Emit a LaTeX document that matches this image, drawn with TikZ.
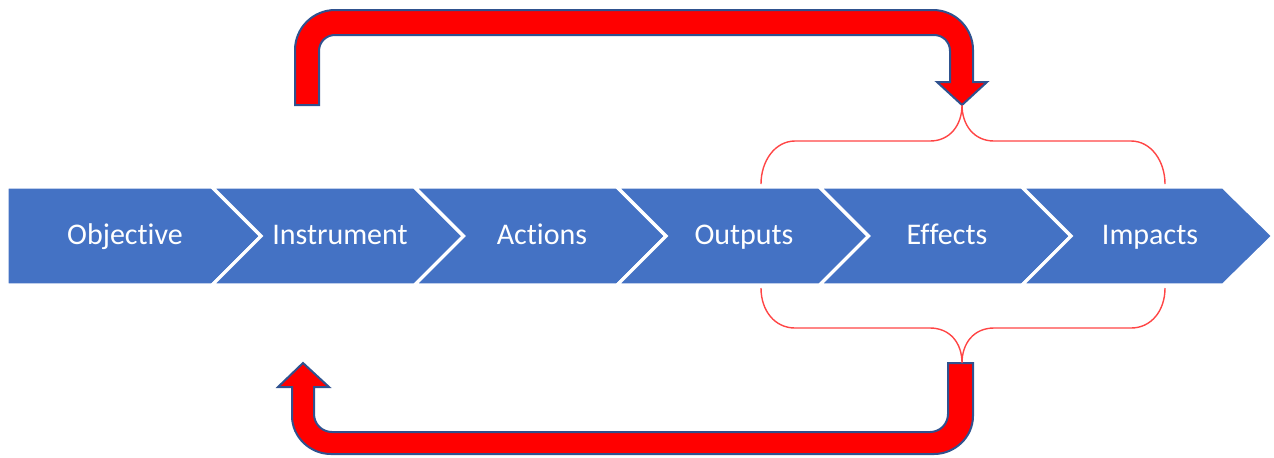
\documentclass[tikz,border=0pt]{standalone}
\usepackage{fontspec}
\setmainfont{Carlito}[Ligatures={NoCommon,NoRequired,NoContextual}]
\definecolor{chevblue}{HTML}{4472C4}
\definecolor{arrowedge}{HTML}{2F528F}
\definecolor{bracered}{HTML}{FF4545}
\begin{document}
\begin{tikzpicture}[x=0.5pt,y=-0.5pt,
  chev/.style={fill=chevblue,draw=white,line width=1.6pt,line join=miter},
  label/.style={text=white,font=\fontsize{15}{18}\selectfont,anchor=base,inner sep=0pt},
  bigarrow/.style={fill=red,draw=arrowedge,line width=1pt,line join=miter},
  brace/.style={draw=bracered,line width=0.7pt}]
\useasboundingbox (0,0) rectangle (1274,457);
% chevrons
\draw[chev] (7,187) -- (212,187) -- (261,236) -- (212,285) -- (7,285) -- cycle;
\draw[chev] (212,187) -- (414.5,187) -- (463.5,236) -- (414.5,285) -- (212,285) -- (261,236) -- cycle;
\draw[chev] (414.5,187) -- (617,187) -- (666,236) -- (617,285) -- (414.5,285) -- (463.5,236) -- cycle;
\draw[chev] (617,187) -- (819.5,187) -- (868.5,236) -- (819.5,285) -- (617,285) -- (666,236) -- cycle;
\draw[chev] (819.5,187) -- (1022,187) -- (1071,236) -- (1022,285) -- (819.5,285) -- (868.5,236) -- cycle;
\draw[chev] (1022,187) -- (1223,187) -- (1273,236) -- (1223,285) -- (1022,285) -- (1071,236) -- cycle;
\node[label] (objective) at (125,244) {Objective};
\node[label] (instrument) at (340,244) {Instrument};
\node[label] (actions) at (542,244) {Actions};
\node[label] (outputs) at (744,244) {Outputs};
\node[label] (effects) at (947,244) {Ef\/fects};
\node[label] (impacts) at (1150,244) {Impacts};
% top bent arrow
\draw[bigarrow] (295,105) -- (295,50) .. controls (295,28) and (313,10) .. (335,10)
  -- (933,10) .. controls (955,10) and (973,28) .. (973,50) -- (973,82) -- (987,82)
  -- (962,105) -- (937,82) -- (950,82) -- (950,51) .. controls (950,42) and (943,35) .. (934,35)
  -- (335,35) .. controls (326,35) and (319,42) .. (319,51) -- (319,105) -- cycle;
% bottom bent arrow
\draw[bigarrow] (303,363) -- (329,387) -- (314,387) -- (314,414) .. controls (314,424) and (322,432) .. (332,432)
  -- (930,432) .. controls (940,432) and (948,424) .. (948,414) -- (948,363) -- (973,363)
  -- (973,416) .. controls (973,437) and (955,454) .. (934,454)
  -- (331,454) .. controls (310,454) and (292,437) .. (292,416) -- (292,387) -- (278,387) -- cycle;
% braces
\coordinate (toptip) at (962,105);
\coordinate (bottip) at (962,363);
\draw[brace] (761,184) .. controls (761,161) and (775,141) .. (795,141) -- (930,141)
  .. controls (950,141) and (962,125) .. (toptip)
  .. controls (962,125) and (974,141) .. (994,141) -- (1131,141)
  .. controls (1151,141) and (1165,161) .. (1165,184);
\draw[brace] (761,288) .. controls (761,311) and (775,328) .. (795,328) -- (930,328)
  .. controls (950,328) and (962,343) .. (bottip)
  .. controls (962,343) and (974,328) .. (994,328) -- (1131,328)
  .. controls (1151,328) and (1165,311) .. (1165,288);
\end{tikzpicture}
\end{document}
